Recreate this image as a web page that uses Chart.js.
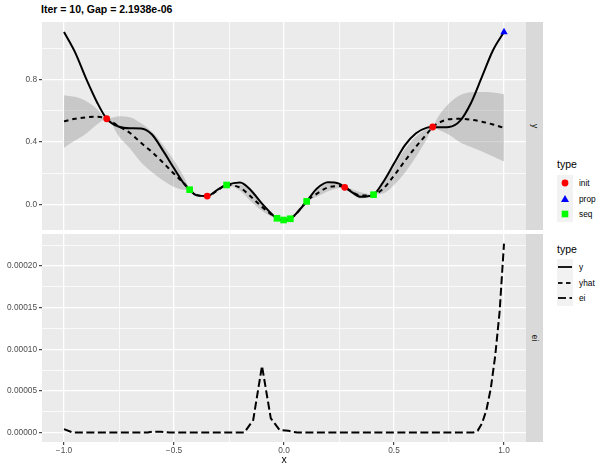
<!DOCTYPE html>
<html>
<head>
<meta charset="utf-8">
<script src="https://cdn.jsdelivr.net/npm/chart.js@4.4.1/dist/chart.umd.min.js"></script>
<style>
  html, body { margin: 0; padding: 0; background: #ffffff; }
  body { width: 597px; height: 466px; position: relative; overflow: hidden;
         font-family: "Liberation Sans", Arial, Helvetica, sans-serif; }
  canvas { position: absolute; }
  #cTop { left: 0; top: 0; }
  #cEi { left: 0; top: 230px; }
  .title { position: absolute; left: 41px; top: 3px; font-size: 10.5px; font-weight: bold; color: #000; white-space: nowrap; }
  .strip { position: absolute; left: 526px; width: 17px; background: #D9D9D9; }
  .strip span { position: absolute; left: 50%; top: 50%; transform: translate(-50%, -50%) rotate(90deg);
                font-size: 8.3px; color: #1A1A1A; line-height: 1; }
  .lg-title { position: absolute; left: 557px; font-size: 10.5px; color: #000; line-height: 12px; }
  .lg-key { position: absolute; left: 557px; width: 16px; height: 16px; background: #F2F2F2; }
  .lg-key svg { display: block; }
  .lg-lab { position: absolute; left: 579px; font-size: 8.3px; color: #000; line-height: 10px; }
</style>
</head>
<body>
<div class="title">Iter = 10, Gap = 2.1938e-06</div>
<canvas id="cTop" width="526" height="230"></canvas>
<canvas id="cEi" width="526" height="236"></canvas>
<div class="strip" style="top:22px;height:208px;"><span>y</span></div>
<div class="strip" style="top:234px;height:208px;"><span>ei</span></div>

<div class="lg-title" style="top:158px;">type</div>
<div class="lg-key" style="top:175px;"><svg width="16" height="16"><circle cx="8" cy="8" r="3.4" fill="#FF0000"/></svg></div>
<div class="lg-lab" style="top:178px;">init</div>
<div class="lg-key" style="top:190.6px;"><svg width="16" height="16"><polygon points="8,4 12,11 4,11" fill="#0000FF"/></svg></div>
<div class="lg-lab" style="top:193.6px;">prop</div>
<div class="lg-key" style="top:206.2px;"><svg width="16" height="16"><rect x="4.7" y="4.7" width="6.6" height="6.6" fill="#00FF00"/></svg></div>
<div class="lg-lab" style="top:209.2px;">seq</div>

<div class="lg-title" style="top:243px;">type</div>
<div class="lg-key" style="top:259px;"><svg width="16" height="16"><line x1="1" y1="8" x2="15" y2="8" stroke="#1A1A1A" stroke-width="2"/></svg></div>
<div class="lg-lab" style="top:262px;">y</div>
<div class="lg-key" style="top:274.6px;"><svg width="16" height="16"><line x1="1" y1="8" x2="15" y2="8" stroke="#1A1A1A" stroke-width="2" stroke-dasharray="4.5 3.5"/></svg></div>
<div class="lg-lab" style="top:277.6px;">yhat</div>
<div class="lg-key" style="top:290.2px;"><svg width="16" height="16"><line x1="1" y1="8" x2="15" y2="8" stroke="#1A1A1A" stroke-width="2" stroke-dasharray="8 3.5"/></svg></div>
<div class="lg-lab" style="top:293.2px;">ei</div>

<script>
// ---- model evaluation grid (x) and curves over it ----
const xGrid = [-1.0, -0.95, -0.9, -0.85, -0.806, -0.75, -0.7, -0.65, -0.6, -0.55, -0.5, -0.45, -0.429, -0.4, -0.349, -0.3, -0.261, -0.2, -0.15, -0.1, -0.05, -0.032, -0.002, 0.029, 0.05, 0.103, 0.15, 0.2, 0.25, 0.276, 0.3, 0.35, 0.407, 0.45, 0.5, 0.55, 0.6, 0.65, 0.676, 0.7, 0.75, 0.8, 0.85, 0.9, 0.95, 1.0];

// true objective
const yTrue = [1.104, 0.975, 0.807, 0.655, 0.549, 0.498, 0.488, 0.487, 0.448, 0.345, 0.232, 0.125, 0.095, 0.060, 0.054, 0.097, 0.125, 0.141, 0.090, 0.006, -0.068, -0.088, -0.099, -0.091, -0.066, 0.020, 0.102, 0.142, 0.134, 0.110, 0.088, 0.049, 0.063, 0.142, 0.262, 0.380, 0.456, 0.492, 0.496, 0.494, 0.496, 0.535, 0.650, 0.818, 0.987, 1.104];

// surrogate mean
const yHat = [0.532, 0.549, 0.558, 0.562, 0.549, 0.500, 0.458, 0.395, 0.336, 0.268, 0.197, 0.128, 0.095, 0.062, 0.054, 0.093, 0.125, 0.108, 0.050, -0.015, -0.072, -0.088, -0.099, -0.091, -0.068, 0.020, 0.070, 0.110, 0.118, 0.110, 0.090, 0.058, 0.063, 0.100, 0.185, 0.280, 0.370, 0.453, 0.496, 0.520, 0.546, 0.549, 0.543, 0.530, 0.512, 0.490];

// uncertainty band around the surrogate mean
const bandLo = [0.364, 0.409, 0.453, 0.512, 0.549, 0.435, 0.358, 0.270, 0.206, 0.153, 0.112, 0.093, 0.095, 0.052, 0.054, 0.085, 0.125, 0.088, 0.020, -0.040, -0.082, -0.088, -0.099, -0.091, -0.076, 0.020, 0.050, 0.085, 0.106, 0.110, 0.078, 0.038, 0.063, 0.070, 0.125, 0.205, 0.305, 0.423, 0.496, 0.480, 0.446, 0.399, 0.368, 0.340, 0.307, 0.275];
const bandHi = [0.700, 0.689, 0.663, 0.612, 0.549, 0.565, 0.558, 0.520, 0.466, 0.383, 0.282, 0.163, 0.095, 0.072, 0.054, 0.101, 0.125, 0.128, 0.080, 0.010, -0.062, -0.088, -0.099, -0.091, -0.060, 0.020, 0.090, 0.135, 0.130, 0.110, 0.102, 0.078, 0.063, 0.130, 0.245, 0.355, 0.435, 0.483, 0.496, 0.560, 0.646, 0.699, 0.718, 0.720, 0.717, 0.705];

// design points by type
const initX = [-0.806, -0.349, 0.276, 0.676];
const initY = [0.549, 0.054, 0.110, 0.496];
const propX = [1.0];
const propY = [1.104];
const seqX = [-0.429, -0.261, -0.032, -0.002, 0.029, 0.103, 0.407];
const seqY = [0.095, 0.125, -0.088, -0.099, -0.091, 0.020, 0.063];

// expected improvement
const eiX = [-1.0, -0.96, -0.9, -0.8, -0.7, -0.62, -0.6, -0.56, -0.52, -0.4, -0.3, -0.2, -0.18, -0.14, -0.1, -0.06, -0.02, 0.02, 0.06, 0.2, 0.4, 0.6, 0.8, 0.86, 0.88, 0.9, 0.92, 0.94, 0.96, 0.98, 1.0];
const eiY = [0.0000041, 0, 0, 0, 0, 0, 0.000001, 0.000001, 0, 0, 0, 0, 0, 0.000015, 0.00008, 0.000017, 0.000003, 0.000002, 0, 0, 0, 0, 0, 0, 0.000002, 0.000011, 0.000027, 0.000053, 0.000092, 0.000145, 0.000227];

// axis breaks
const xMajor = [-1, -0.5, 0, 0.5, 1];
const xMinor = [-0.75, -0.25, 0.25, 0.75];
const yMajor = [0, 0.4, 0.8];
const yMinor = [0.2, 0.6, 1.0];
const eiMajor = [0, 0.00005, 0.0001, 0.00015, 0.0002];
const eiMinor = [0.000025, 0.000075, 0.000125, 0.000175, 0.000225];

const FONT = "'Liberation Sans', Arial, Helvetica, sans-serif";

function pts(xs, ys) { return xs.map((x, i) => ({ x: x, y: ys[i] })); }
function isMajor(list, v) { return list.some(m => Math.abs(m - v) < 1e-12 + Math.abs(m) * 1e-9); }
function breaks(major, minor) { return major.concat(minor).sort((a, b) => a - b).map(v => ({ value: v })); }
function minusFmt(s) { return s.charAt(0) === '-' ? '\u2212' + s.slice(1) : s; }
function noPad(s) { s.paddingTop = 0; s.paddingBottom = 0; s.paddingLeft = 0; s.paddingRight = 0; }

const panelBg = {
  id: 'panelBg',
  beforeDraw(chart) {
    const a = chart.chartArea, ctx = chart.ctx;
    ctx.save();
    ctx.fillStyle = '#EBEBEB';
    ctx.fillRect(a.left, a.top, a.right - a.left, a.bottom - a.top);
    ctx.restore();
  }
};

function gridOpts(major, drawTicks) {
  return {
    color: '#FFFFFF',
    lineWidth: c => (c.tick && isMajor(major, c.tick.value)) ? 1.3 : 0.75,
    drawTicks: drawTicks,
    tickLength: 3,
    tickWidth: 1.1,
    tickColor: c => (c.tick && isMajor(major, c.tick.value)) ? '#333333' : 'rgba(0,0,0,0)'
  };
}

function xAxis(withLabels) {
  return {
    type: 'linear', min: -1.1, max: 1.1, bounds: 'data',
    afterBuildTicks: s => { s.ticks = breaks(xMajor, xMinor); },
    afterFit: s => { s.height = withLabels ? 24 : 0; noPad(s); },
    ticks: {
      display: withLabels, autoSkip: false, maxRotation: 0, padding: 1,
      color: '#4D4D4D', font: { family: FONT, size: 8.3 },
      callback: v => isMajor(xMajor, v) ? minusFmt(v.toFixed(1)) : ''
    },
    grid: gridOpts(xMajor, withLabels),
    border: { display: false },
    title: withLabels
      ? { display: true, text: 'x', color: '#000000', font: { family: FONT, size: 10.5 }, padding: { top: 0, bottom: 0 } }
      : { display: false }
  };
}

function yAxis(min, max, major, minor, digits) {
  return {
    type: 'linear', min: min, max: max, bounds: 'data',
    afterBuildTicks: s => { s.ticks = breaks(major, minor); },
    afterFit: s => { s.width = 42; noPad(s); },
    ticks: {
      autoSkip: false, padding: 2, color: '#4D4D4D', font: { family: FONT, size: 8.3 },
      callback: v => isMajor(major, v) ? v.toFixed(digits) : ''
    },
    grid: gridOpts(major, true),
    border: { display: false }
  };
}

const common = {
  responsive: false, animation: false, devicePixelRatio: 1,
  plugins: { legend: { display: false }, tooltip: { enabled: false } }
};

// upper panel: objective, surrogate, band and design points
new Chart(document.getElementById('cTop'), {
  type: 'line',
  data: {
    datasets: [
      { label: 'init', data: pts(initX, initY), showLine: false, pointStyle: 'circle', pointRadius: 3.4,
        pointBackgroundColor: '#FF0000', pointBorderWidth: 0 },
      { label: 'prop', data: pts(propX, propY), showLine: false, pointStyle: 'triangle', pointRadius: 4.3,
        pointBackgroundColor: '#0000FF', pointBorderWidth: 0 },
      { label: 'seq', data: pts(seqX, seqY), showLine: false, pointStyle: 'rect', pointRadius: 4.7,
        pointBackgroundColor: '#00FF00', pointBorderWidth: 0 },
      { label: 'y', data: pts(xGrid, yTrue), borderColor: '#000000', borderWidth: 2, pointRadius: 0,
        cubicInterpolationMode: 'monotone', fill: false },
      { label: 'yhat', data: pts(xGrid, yHat), borderColor: '#000000', borderWidth: 2, borderDash: [4.5, 4],
        pointRadius: 0, cubicInterpolationMode: 'monotone', fill: false },
      { label: 'lo', data: pts(xGrid, bandLo), borderWidth: 0, borderColor: 'rgba(0,0,0,0)', pointRadius: 0,
        cubicInterpolationMode: 'monotone', fill: false },
      { label: 'hi', data: pts(xGrid, bandHi), borderWidth: 0, borderColor: 'rgba(0,0,0,0)', pointRadius: 0,
        cubicInterpolationMode: 'monotone', fill: '-1', backgroundColor: 'rgba(153,153,153,0.42)' }
    ]
  },
  options: Object.assign({}, common, {
    layout: { autoPadding: false, padding: { top: 22, right: 0, bottom: 0, left: 0 } },
    scales: {
      x: xAxis(false),
      y: yAxis(-0.163, 1.168, yMajor, yMinor, 1)
    }
  }),
  plugins: [panelBg]
});

// lower panel: expected improvement
new Chart(document.getElementById('cEi'), {
  type: 'line',
  data: {
    datasets: [
      { label: 'ei', data: pts(eiX, eiY), borderColor: '#000000', borderWidth: 2, borderDash: [8, 3.5],
        pointRadius: 0, tension: 0, fill: false }
    ]
  },
  options: Object.assign({}, common, {
    layout: { autoPadding: false, padding: { top: 4, right: 0, bottom: 0, left: 0 } },
    scales: {
      x: xAxis(true),
      y: yAxis(-0.0000114, 0.0002385, eiMajor, eiMinor, 5)
    }
  }),
  plugins: [panelBg]
});
</script>
</body>
</html>
